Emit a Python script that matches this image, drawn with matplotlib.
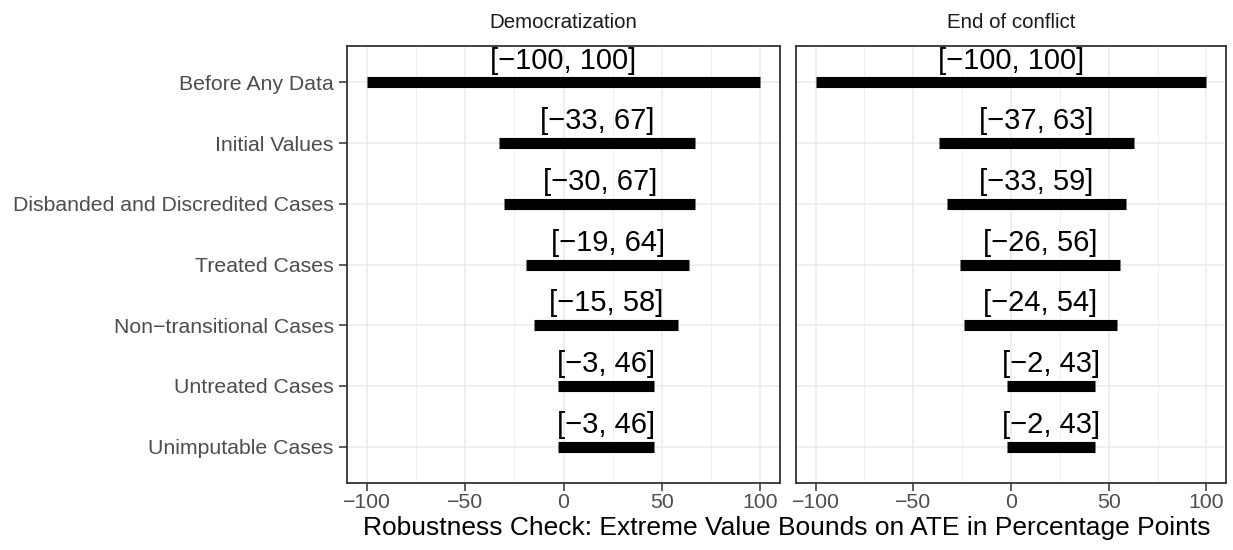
import matplotlib
matplotlib.use("Agg")
import matplotlib.pyplot as plt
from matplotlib.ticker import MultipleLocator

plt.rcParams['font.family'] = ['Liberation Sans', 'DejaVu Sans']

# --- Data ---
checks = ["Before Any Data", "Initial Values", "Disbanded and Discredited Cases",
          "Treated Cases", "Non\u2212transitional Cases", "Untreated Cases",
          "Unimputable Cases"]
panels = ["Democratization", "End of conflict"]
demo_lo = [-100, -33, -30, -19, -15, -3, -3]
demo_hi = [100, 67, 67, 64, 58, 46, 46]
conf_lo = [-100, -37, -33, -26, -24, -2, -2]
conf_hi = [100, 63, 59, 56, 54, 43, 43]
bounds = [(demo_lo, demo_hi), (conf_lo, conf_hi)]
xticks = [-100, -50, 0, 50, 100]

W, H = 1233, 550
fig = plt.figure(figsize=(W / 100, H / 100), dpi=100, facecolor='white')

# panel pixel boxes (left, right), shared top/bottom
boxes = [(347, 780), (796, 1226)]
top, bottom = 46, 483

for i, ((l, r), name, (lo, hi)) in enumerate(zip(boxes, panels, bounds)):
    ax = fig.add_axes([l / W, 1 - bottom / H, (r - l) / W, (bottom - top) / H])
    ypos = list(range(len(checks)))
    for y, a, b in zip(ypos, lo, hi):
        ax.plot([a, b], [y, y], color='black', lw=8, solid_capstyle='butt', zorder=3)
        lab = f"[{a}, {b}]".replace('-', '\u2212')
        ax.text((a + b) / 2, y - 0.36, lab, ha='center', va='center',
                fontsize=21, color='black', zorder=4)
    ax.set_xlim(-110, 110)
    ax.set_ylim(len(checks) - 0.4, -0.6)
    ax.xaxis.set_minor_locator(MultipleLocator(25))
    ax.set_xticks(xticks)
    ax.set_xticklabels([str(t).replace('-', '\u2212') for t in xticks])
    ax.set_yticks(ypos)
    if i == 0:
        ax.set_yticklabels(checks)
    else:
        ax.tick_params(axis='y', left=False, labelleft=False)
    ax.grid(which='major', color='#EBEBEB', lw=1.1, zorder=0)
    ax.grid(which='minor', axis='x', color='#EBEBEB', lw=0.55, zorder=0)
    ax.set_axisbelow(True)
    ax.tick_params(axis='both', which='major', length=5.5, width=1.1, color='#333333',
                   labelcolor='#4D4D4D', labelsize=15.3, pad=2)
    ax.tick_params(axis='y', pad=4)
    ax.tick_params(axis='x', which='minor', length=0)
    for s in ax.spines.values():
        s.set_color('#333333')
        s.set_linewidth(1.3)
    # facet strip label
    fig.text((l + r) / 2 / W, 1 - 22 / H, name, ha='center', va='center',
             fontsize=14.8, color='#1A1A1A')

fig.text((boxes[0][0] + boxes[1][1]) / 2 / W, 1 - 528 / H,
         "Robustness Check: Extreme Value Bounds on ATE in Percentage Points",
         ha='center', va='center', fontsize=19, color='black')

fig.savefig("out.png", dpi=100, facecolor='white')
